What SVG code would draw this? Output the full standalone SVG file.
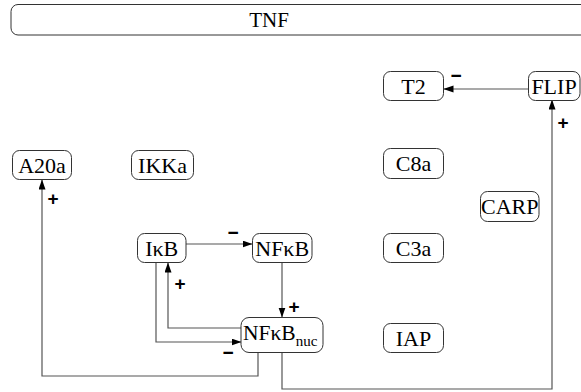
<svg xmlns="http://www.w3.org/2000/svg" width="581" height="392" viewBox="0 0 581 392">
<style>
.box{fill:#fff;stroke:#333;stroke-width:1}
.lbl{font-family:'Liberation Serif','Times New Roman','DejaVu Serif',serif;font-size:22px;fill:#000;text-anchor:middle}
.sub{font-size:15px}
.conn{fill:none;stroke:#555;stroke-width:1.2}
.sign{font-family:'Liberation Sans',Arial,sans-serif;font-size:19px;font-weight:bold;fill:#000;text-anchor:middle}
</style>
<defs>
<marker id="arr" markerUnits="userSpaceOnUse" markerWidth="10" markerHeight="8" refX="9.5" refY="3.5" orient="auto">
<path d="M0,0 L10,3.5 L0,7 z" fill="#000"/>
</marker>
</defs>
<rect width="581" height="392" fill="#fff"/>
<g id="connectors">
<path class="conn" d="M528,89 H444" marker-end="url(#arr)"/>
<path class="conn" d="M282,353 V389 H552 V100" marker-end="url(#arr)"/>
<path class="conn" d="M258,353 V376 H42 V180" marker-end="url(#arr)"/>
<path class="conn" d="M186,244 H252" marker-end="url(#arr)"/>
<path class="conn" d="M282,263 V317" marker-end="url(#arr)"/>
<path class="conn" d="M241,328 H168 V263" marker-end="url(#arr)"/>
<path class="conn" d="M156,263 V342 H241" marker-end="url(#arr)"/>
<text class="sign" x="456" y="82">−</text>
<text class="sign" x="563" y="129">+</text>
<text class="sign" x="53" y="205">+</text>
<text class="sign" x="233" y="239">−</text>
<text class="sign" x="294" y="313">+</text>
<text class="sign" x="180" y="290">+</text>
<text class="sign" x="228" y="359">−</text>
</g>
<g font-family="Liberation Serif, Times New Roman, serif">
<g id="TNF"><rect class="box" x="11" y="4.5" width="600" height="30.5" rx="7"/><text class="lbl" x="269" y="27" style="font-size:21px">TNF</text></g>
<g id="T2"><rect class="box" x="383.5" y="71.5" width="60" height="29" rx="7"/><text class="lbl" x="413.5" y="94">T2</text></g>
<g id="FLIP"><rect class="box" x="528.5" y="71.5" width="51.5" height="29" rx="7"/><text class="lbl" x="554" y="94">FLIP</text></g>
<g id="A20a"><rect class="box" x="12.5" y="150.5" width="59" height="29" rx="7"/><text class="lbl" x="42" y="173">A20a</text></g>
<g id="IKKa"><rect class="box" x="131.5" y="150.5" width="62" height="29" rx="7"/><text class="lbl" x="162.5" y="173">IKKa</text></g>
<g id="C8a"><rect class="box" x="383.5" y="148.5" width="60" height="30" rx="7"/><text class="lbl" x="413.5" y="171">C8a</text></g>
<g id="CARP"><rect class="box" x="480.5" y="191.5" width="58.5" height="30" rx="7"/><text class="lbl" x="509.7" y="214">CARP</text></g>
<g id="IkB"><rect class="box" x="137.5" y="233.5" width="48.5" height="29" rx="7"/><text class="lbl" x="161.7" y="256">IκB</text></g>
<g id="NFkB"><rect class="box" x="252.5" y="233.5" width="59.5" height="29" rx="7"/><text class="lbl" x="282.2" y="256">NFκB</text></g>
<g id="C3a"><rect class="box" x="383.5" y="233.5" width="60" height="29" rx="7"/><text class="lbl" x="413.5" y="256">C3a</text></g>
<g id="NFkBnuc"><rect class="box" x="241" y="317.5" width="82" height="35" rx="8"/><text class="lbl" x="243" y="340" style="text-anchor:start;font-size:21.5px">NFκB<tspan class="sub" dy="6">nuc</tspan></text></g>
<g id="IAP"><rect class="box" x="383.5" y="323.5" width="60" height="29" rx="7"/><text class="lbl" x="413.5" y="346">IAP</text></g>
</g>
</svg>
